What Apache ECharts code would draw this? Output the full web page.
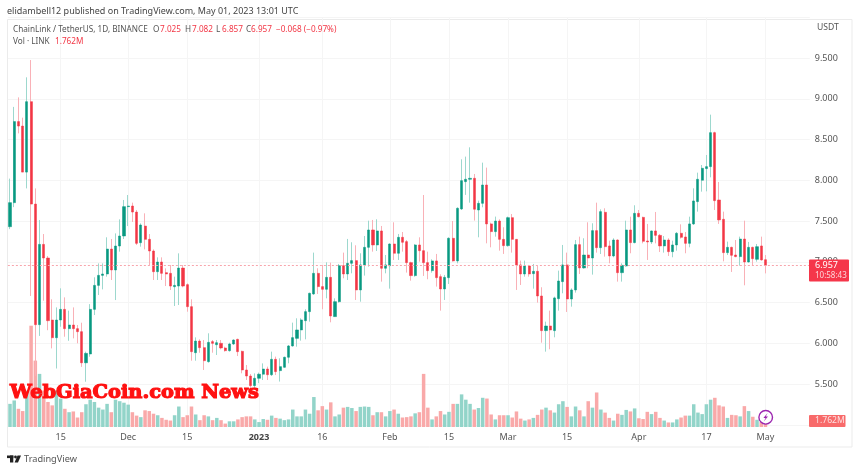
<!DOCTYPE html>
<html><head><meta charset="utf-8">
<style>html,body{margin:0;padding:0;background:#fff}#c{width:860px;height:471px}</style>
<script src="https://cdn.jsdelivr.net/npm/echarts@6/dist/echarts.min.js"></script>
</head><body><div id="c"></div>
<script>
const tickLabels = {"2022-11-15":"15","2022-12-01":"Dec","2022-12-15":"15","2023-01-01":"2023","2023-01-16":"16","2023-02-01":"Feb","2023-02-15":"15","2023-03-01":"Mar","2023-03-15":"15","2023-04-01":"Apr","2023-04-17":"17","2023-05-01":"May"};
const opens = [7.43,7.725,8.72,8.665,8.10,8.964,7.708,6.228,7.213,7.046,6.285,6.068,6.285,6.416,6.179,6.224,6.179,6.142,5.76,5.868,6.416,6.71,6.833,6.85,7.156,6.899,7.193,7.316,7.676,7.684,7.61,7.234,7.438,7.275,7.132,6.878,6.997,6.866,6.858,6.694,6.702,6.923,6.719,6.449,5.884,6.027,5.946,5.774,6.02,5.982,5.999,5.942,5.909,5.991,6.048,5.901,5.672,5.598,5.48,5.57,5.62,5.684,5.614,5.803,5.664,5.705,5.828,5.967,6.06,6.163,6.277,6.388,6.605,6.858,6.695,6.662,6.809,6.327,6.51,6.952,6.85,6.981,7.014,6.654,6.961,7.177,7.39,7.206,7.378,6.92,6.952,7.218,7.104,7.3,7.247,6.989,6.83,7.206,7.136,6.989,6.891,7.01,6.817,6.666,6.805,7.288,7.01,7.648,7.983,8.012,8.024,7.635,7.717,7.942,7.464,7.37,7.5,7.275,7.198,7.541,7.275,6.961,6.85,6.948,6.854,6.883,6.58,6.155,6.212,6.155,6.547,6.756,6.961,6.543,6.654,7.21,6.924,7.083,7.046,7.382,7.173,7.607,7.194,7.071,7.267,6.866,6.948,7.39,7.235,7.594,7.545,7.255,7.243,7.378,7.324,7.194,7.267,7.124,7.206,7.349,7.304,7.226,7.464,7.738,8.0,8.143,8.167,8.584,7.758,7.521,7.112,7.177,7.083,7.063,7.279,6.997,7.177,7.03,7.194,7.025];
const highs = [8.02,8.90,9.017,8.768,9.263,9.475,7.90,7.512,7.34,7.07,6.539,6.44,6.674,6.563,6.40,6.44,6.224,6.252,5.897,6.48,6.809,6.98,6.98,7.30,7.279,7.348,7.52,7.758,7.819,7.725,7.635,7.471,7.594,7.34,7.152,7.054,7.054,6.919,6.96,6.817,7.103,6.96,6.735,6.539,6.072,6.048,6.04,6.122,6.04,6.04,6.04,5.958,6.007,6.048,6.056,5.909,5.733,5.623,5.63,5.64,5.753,5.713,5.897,5.836,5.815,5.836,5.979,6.253,6.306,6.306,6.417,6.621,7.112,6.92,6.96,6.993,6.989,6.551,6.973,7.112,7.28,7.239,7.202,7.104,7.316,7.504,7.513,7.521,7.439,7.083,7.226,7.484,7.341,7.365,7.267,7.001,7.218,7.3,7.819,7.124,7.03,7.096,6.846,6.838,7.3,7.5,7.668,8.257,8.29,8.404,8.077,7.75,8.216,8.155,7.48,7.554,7.521,7.423,7.554,7.586,7.275,7.014,7.014,6.961,6.973,6.948,6.687,6.265,6.40,6.572,6.891,7.206,7.112,6.674,7.267,7.308,7.288,7.484,7.472,7.725,7.643,7.656,7.259,7.288,7.275,6.981,7.504,7.553,7.693,7.635,7.553,7.464,7.382,7.611,7.341,7.316,7.288,7.259,7.365,7.459,7.365,7.553,7.901,8.093,8.187,8.31,8.805,8.596,7.979,7.615,7.247,7.185,7.267,7.308,7.504,7.243,7.185,7.218,7.308,7.082];
const lows = [7.40,7.67,8.575,8.10,7.90,6.58,5.6,6.09,6.522,6.16,5.937,5.69,6.203,6.08,6.03,6.06,5.999,5.71,5.528,5.835,6.346,6.592,6.661,6.817,6.776,6.53,7.124,7.279,7.438,7.488,7.205,7.185,7.152,6.96,6.776,6.776,6.776,6.702,6.653,6.457,6.469,6.686,6.387,5.786,5.786,5.884,5.672,5.762,5.884,5.856,5.925,5.897,5.897,5.978,5.843,5.631,5.549,5.44,5.44,5.51,5.549,5.549,5.598,5.61,5.53,5.70,5.754,5.958,5.958,6.032,6.048,6.265,6.593,6.605,6.417,6.551,6.257,6.327,6.498,6.797,6.776,6.858,6.531,6.51,6.83,6.94,7.124,7.132,6.756,6.858,6.67,7.022,7.022,7.124,6.867,6.768,6.817,7.001,6.826,6.785,6.866,6.695,6.40,6.531,6.727,7.001,6.981,7.635,7.82,7.725,7.505,7.3,7.668,7.226,7.177,7.308,7.136,7.096,7.185,7.112,6.654,6.715,6.817,6.817,6.67,6.498,6.007,5.897,5.926,6.073,6.40,6.613,6.384,6.449,6.621,6.85,6.915,6.92,6.842,7.112,7.095,7.063,6.981,7.055,6.756,6.756,6.94,7.104,7.226,7.545,7.226,7.022,7.218,7.226,7.12,7.112,7.071,7.055,7.136,7.284,7.104,7.177,7.451,7.615,7.86,7.864,8.036,7.635,7.464,7.005,7.083,6.875,7.055,6.952,6.711,6.989,6.952,7.001,7.014,6.857];
const closes = [7.725,8.72,8.665,8.10,8.964,7.708,6.228,7.213,7.046,6.277,6.068,6.285,6.416,6.179,6.224,6.179,6.142,5.76,5.876,6.416,6.71,6.833,6.85,7.156,6.899,7.193,7.316,7.676,7.684,7.61,7.226,7.451,7.275,7.132,6.878,6.997,6.858,6.85,6.702,6.71,6.923,6.702,6.449,5.897,6.027,5.946,5.786,6.011,5.999,6.007,5.942,5.909,5.991,6.04,5.897,5.672,5.598,5.48,5.57,5.62,5.684,5.614,5.803,5.652,5.713,5.828,5.967,6.069,6.163,6.286,6.388,6.613,6.858,6.695,6.662,6.809,6.335,6.51,6.952,6.85,6.981,7.014,6.654,6.961,7.177,7.39,7.206,7.378,6.92,6.961,7.218,7.104,7.3,7.239,6.989,6.83,7.206,7.136,6.989,6.891,7.01,6.805,6.666,6.809,7.288,7.01,7.656,7.995,8.012,8.024,7.644,7.717,7.942,7.464,7.37,7.5,7.275,7.198,7.541,7.275,6.961,6.85,6.948,6.85,6.883,6.58,6.155,6.212,6.163,6.556,6.764,6.961,6.543,6.654,7.21,6.924,7.083,7.046,7.382,7.173,7.615,7.185,7.071,7.267,6.866,6.956,7.39,7.235,7.594,7.553,7.251,7.243,7.378,7.324,7.194,7.267,7.124,7.206,7.349,7.3,7.226,7.464,7.746,8.012,8.147,8.167,8.584,7.75,7.513,7.112,7.177,7.079,7.063,7.279,6.997,7.177,7.038,7.185,7.022,6.957];
const volumes = [6.1,7.0,4.8,4.2,9.6,26.7,17.5,14.0,9.6,6.6,5.7,9.6,7.5,4.8,3.9,4.1,2.5,3.9,6.0,7.2,6.6,5.1,4.6,6.1,3.9,7.2,6.8,6.4,5.9,3.9,3.0,2.6,4.4,4.2,3.5,3.1,2.4,1.9,1.7,3.1,5.4,2.6,3.1,5.4,3.3,1.8,3.1,2.8,1.8,2.4,1.8,0.9,1.5,1.5,2.0,2.6,2.8,2.8,2.0,1.3,2.1,1.9,3.0,2.4,2.2,1.8,2.0,4.6,2.8,2.8,4.6,3.5,7.9,4.4,5.5,4.6,6.5,2.8,3.3,5.1,5.3,5.0,4.2,5.3,5.4,5.3,3.1,3.9,3.9,2.8,4.2,4.6,3.5,2.5,2.6,2.8,3.6,3.9,14.0,5.1,2.0,2.8,4.2,3.3,4.0,6.1,6.1,8.6,7.2,6.1,4.6,5.0,7.7,7.5,3.3,2.0,3.1,3.1,3.1,2.5,4.1,2.2,1.7,2.0,2.4,3.2,4.6,5.1,4.4,3.8,6.0,6.8,5.3,2.8,5.4,4.4,2.8,6.8,5.1,9.1,4.6,3.8,2.4,1.7,3.5,3.2,4.5,4.1,4.9,2.3,2.1,4.0,3.4,4.0,2.4,1.7,1.2,1.2,2.0,2.5,3.0,3.0,6.0,3.8,3.4,6.0,7.2,7.7,5.7,5.4,2.4,3.2,3.1,2.8,5.5,4.2,2.7,1.9,1.3,1.762];

const categories = [];
for (let i = 0; i < 190; i++) {
  const d = new Date(Date.UTC(2022, 10, 3 + i));
  categories.push(d.toISOString().slice(0, 10));
}
const UP = '#089981', DOWN = '#f23645', UPW = '#9dd8ce', DOWNW = '#f9b1b7', UPV = '#92d4c9', DOWNV = '#f9a9a9';
const wickData = opens.map((o, i) => [o, closes[i], lows[i], highs[i]]);
const bodyData = opens.map((o, i) => [o, closes[i], Math.min(o, closes[i]), Math.max(o, closes[i])]);
const isLabelled = (i, v) => tickLabels[v] !== undefined;
const FONT = '"Noto Sans", sans-serif';
const gridLine = {lineStyle: {color: '#f5f5f5', width: 1}};
const txt = (x, y, t, fill, size, z) => ({type: 'text', x, y, z: z || 50, silent: true,
  style: {text: t, fill, font: (size || 8.2) + 'px ' + FONT, textVerticalAlign: 'middle', textAlign: 'left'}});

const chart = echarts.init(document.getElementById('c'), null, {renderer: 'canvas'});
chart.setOption({
  animation: false,
  backgroundColor: '#ffffff',
  grid: [
    {left: 7.89, width: 801.9, top: 17.25, height: 407.5},
    {left: 7.89, width: 801.9, top: 17.25, height: 409.75}
  ],
  xAxis: [
    {type: 'category', gridIndex: 0, data: categories, axisLine: {show: false}, axisTick: {show: false}, axisLabel: {show: false}, splitLine: {show: false}},
    {type: 'category', gridIndex: 1, data: categories, axisLine: {show: false}, axisTick: {show: false},
      axisLabel: {interval: isLabelled, margin: 6, fontFamily: FONT, fontSize: 9, color: '#555',
        formatter: v => v === '2023-01-01' ? '{b|2023}' : tickLabels[v], rich: {b: {fontWeight: 'bold', fontFamily: FONT, fontSize: 9, color: '#444'}}},
      splitLine: {show: true, alignWithLabel: true, interval: isLabelled, lineStyle: {color: '#f5f5f5', width: 1}}}
  ],
  yAxis: [
    {type: 'value', gridIndex: 0, position: 'right', min: 5, max: 10, interval: 0.5, scale: true,
      axisLine: {show: false}, axisTick: {show: false},
      axisLabel: {margin: 5, fontFamily: FONT, fontSize: 9, color: '#555', align: 'left',
        formatter: v => v >= 10 ? '' : v.toFixed(3)},
      splitLine: gridLine},
    {type: 'value', gridIndex: 1, min: 0, max: 108, show: false, splitLine: {show: false}}
  ],
  series: [
    {type: 'bar', name: 'Vol', xAxisIndex: 1, yAxisIndex: 1, z: 1, barWidth: 3.5, data: volumes, silent: true,
      itemStyle: {color: p => closes[p.dataIndex] >= opens[p.dataIndex] ? UPV : DOWNV}},
    {type: 'candlestick', name: 'Wicks', xAxisIndex: 0, yAxisIndex: 0, z: 3, barWidth: 1, data: wickData, silent: true,
      itemStyle: {color: UPW, color0: DOWNW, borderColor: UPW, borderColor0: DOWNW, borderWidth: 1}},
    {type: 'candlestick', name: 'ChainLink / TetherUS', xAxisIndex: 0, yAxisIndex: 0, z: 4, barWidth: 2.6, data: bodyData, silent: true,
      itemStyle: {color: UP, color0: DOWN, borderColor: UP, borderColor0: DOWN, borderWidth: 0.5},
      markLine: {silent: true, symbol: 'none', label: {show: false}, animation: false, emphasis: {disabled: true},
        lineStyle: {color: '#f8a5ac', type: [2, 2], width: 1, opacity: 1},
        data: [{yAxis: closes[closes.length - 1]}]}}
  ],
  graphic: [
    {type: 'rect', z: 0, silent: true, shape: {x: 7.5, y: 19.5, width: 844.5, height: 427.5}, style: {fill: 'none', stroke: '#ebebeb', lineWidth: 1}},
    txt(7, 11, 'elidambell12 published on TradingView.com, May 01, 2023 13:01 UTC', '#444', 9),
    txt(13, 30, 'ChainLink / TetherUS, 1D, BINANCE', '#555'),
    txt(153, 30, 'O', '#555'), txt(160, 30, '7.025', DOWN),
    txt(185, 30, 'H', '#555'), txt(192, 30, '7.082', DOWN),
    txt(216, 30, 'L', '#555'), txt(222, 30, '6.857', DOWN),
    txt(246, 30, 'C', '#555'), txt(251, 30, '6.957', DOWN),
    txt(276, 30, '\u22120.068 (\u22120.97%)', DOWN),
    txt(13, 42, 'Vol \u00b7 LINK', '#555'), txt(55, 42, '1.762M', DOWN),
    txt(817, 28, 'USDT', '#555', 8.6),
    {type: 'rect', z: 60, silent: true, shape: {x: 809, y: 259.5, width: 40, height: 22, r: 1}, style: {fill: '#f5364a'}},
    txt(815, 265, '6.957', '#ffffff', 9, 80),
    txt(815, 275.5, '10:58:43', '#fcd5d8', 8, 80),
    {type: 'rect', z: 60, silent: true, shape: {x: 809, y: 415, width: 36.5, height: 12, r: 1}, style: {fill: '#f86a6a'}},
    txt(815, 421, '1.762M', '#fde0e0', 8.6, 80),
    {type: 'circle', z: 70, silent: true, shape: {cx: 765.7, cy: 417.3, r: 6.8}, style: {fill: '#fff', stroke: '#9c27b0', lineWidth: 1.4}},
    {type: 'polygon', z: 71, silent: true, shape: {points: [[767.6, 413], [763.4, 418], [765.6, 418], [763.8, 421.6], [768, 416.6], [765.8, 416.6]]}, style: {fill: '#9c27b0'}},
    {type: 'text', z: 90, silent: true, x: 10, y: 392.5, style: {text: 'WebGiaCoin.com News', fill: '#ff1111', stroke: '#ff1111', lineWidth: 1.2, font: 'bold 19.4px "DejaVu Serif"', textVerticalAlign: 'middle'}},
    {type: 'rect', z: 5, silent: true, shape: {x: 7, y: 455.5, width: 6.4, height: 2.6}, style: {fill: '#222'}},
    {type: 'rect', z: 5, silent: true, shape: {x: 10, y: 455.5, width: 3.3, height: 7}, style: {fill: '#222'}},
    {type: 'circle', z: 5, silent: true, shape: {cx: 15.5, cy: 457, r: 1.4}, style: {fill: '#222'}},
    {type: 'polygon', z: 5, silent: true, shape: {points: [[17.5, 455.5], [21, 455.5], [18, 462.5], [14.6, 462.5]]}, style: {fill: '#222'}},
    txt(24, 459.5, 'TradingView', '#555', 9.2)
  ]
});
</script></body></html>
